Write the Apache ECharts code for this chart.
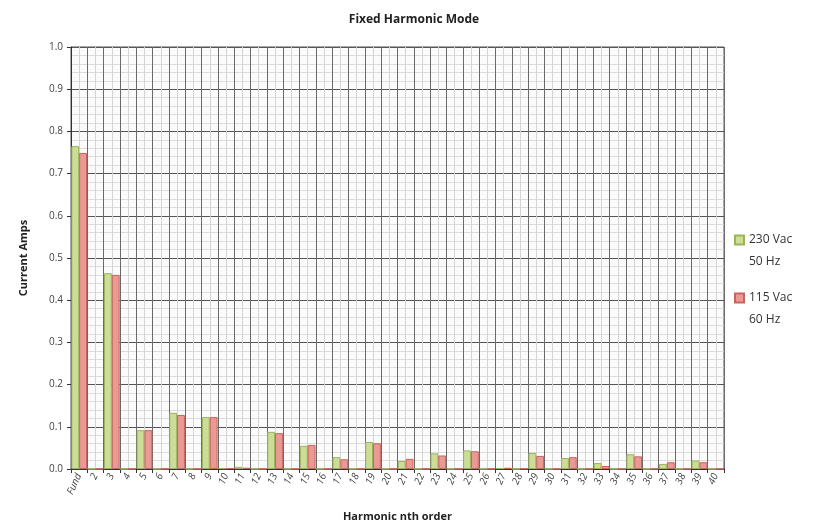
<!DOCTYPE html>
<html>
<head>
<meta charset="utf-8">
<script src="https://cdn.jsdelivr.net/npm/echarts@6/dist/echarts.min.js"></script>
<style>html,body{margin:0;padding:0;background:#fff}#c{width:824px;height:532px}</style>
</head>
<body>
<div id="c"></div>
<script>
const categories = ['Fund','2','3','4','5','6','7','8','9','10','11','12','13','14','15','16','17','18','19','20','21','22','23','24','25','26','27','28','29','30','31','32','33','34','35','36','37','38','39','40'];
const series230 = [0.765,0,0.464,0,0.092,0,0.133,0,0.123,0.002,0.005,0,0.088,0,0.055,0,0.028,0,0.064,0,0.019,0,0.037,0,0.044,0,0.002,0,0.038,0,0.026,0,0.014,0,0.035,0,0.012,0,0.020,0];
const series115 = [0.749,0,0.460,0,0.092,0,0.128,0,0.123,0.002,0.003,0,0.085,0,0.057,0,0.023,0,0.061,0,0.024,0,0.032,0,0.042,0,0.003,0.001,0.031,0,0.028,0,0.007,0,0.030,0,0.016,0,0.016,0];
const seriesNames = ['230 Vac\n50 Hz', '115 Vac\n60 Hz'];
const yTicks = ['0.0','0.1','0.2','0.3','0.4','0.5','0.6','0.7','0.8','0.9','1.0'];

const font = 'Open Sans';
const chart = echarts.init(document.getElementById('c'));
chart.setOption({
  animation: false,
  backgroundColor: '#fff',
  title: {
    text: 'Fixed Harmonic Mode', left: 409, top: 9, textAlign: 'center',
    textStyle: {fontFamily: font, fontSize: 12, fontWeight: 'bold', color: '#222'}
  },
  legend: {
    orient: 'vertical', left: 729, top: 202, itemWidth: 9, itemHeight: 9, itemGap: -8,
    icon: 'rect',
    data: seriesNames,
    formatter: (name) => ' \n' + name,
    textStyle: {fontFamily: font, fontSize: 12, color: '#333', lineHeight: 22}
  },
  grid: {left: 71, right: 100, top: 47, bottom: 63, show: true, borderColor: '#555', borderWidth: 1, backgroundColor: '#fbfbfb'},
  xAxis: [{
    type: 'category', data: categories,
    axisLine: {lineStyle: {color: '#333'}},
    axisTick: {show: true, length: 4, lineStyle: {color: '#333'}},
    axisLabel: {rotate: 65, interval: 0, fontFamily: font, fontSize: 10, color: '#444', fontStyle: 'italic', margin: 5},
    splitLine: {show: false},
    name: 'Harmonic nth order', nameLocation: 'middle', nameGap: 42,
    nameTextStyle: {fontFamily: font, fontSize: 11, fontWeight: 'bold', color: '#222'}
  }, {
    type: 'value', min: 0, max: 40, interval: 1, position: 'bottom',
    axisLine: {show: false}, axisTick: {show: false}, axisLabel: {show: false},
    splitLine: {show: true, lineStyle: {color: '#6a6a6a', width: 1}},
    minorTick: {show: false, splitNumber: 2},
    minorSplitLine: {show: true, lineStyle: {color: '#d4d4d4'}}
  }],
  yAxis: {
    type: 'value', min: 0, max: 1, interval: 0.1,
    axisLine: {show: true, lineStyle: {color: '#333'}},
    axisTick: {show: true, length: 4, lineStyle: {color: '#333'}},
    axisLabel: {fontFamily: font, fontSize: 10, color: '#444', formatter: (v) => yTicks[Math.round(v * 10)], margin: 8},
    splitLine: {show: true, lineStyle: {color: '#555', width: 1}},
    minorSplitLine: {show: true, lineStyle: {color: '#dcdcdc'}},
    minorTick: {show: false, splitNumber: 5},
    name: 'Current Amps', nameLocation: 'middle', nameGap: 42, nameRotate: 90,
    nameTextStyle: {fontFamily: font, fontSize: 11, fontWeight: 'bold', color: '#222'}
  },
  series: [{
    name: seriesNames[0], type: 'bar', xAxisIndex: 0, data: series230,
    barGap: '0%', barCategoryGap: '4%',
    itemStyle: {color: '#cddd97', borderColor: '#9bb35a', borderWidth: 1}
  }, {
    name: seriesNames[1], type: 'bar', xAxisIndex: 0, data: series115,
    barGap: '0%', barCategoryGap: '4%',
    itemStyle: {color: '#ea9a94', borderColor: '#c9635d', borderWidth: 1}
  }]
});
</script>
</body>
</html>
